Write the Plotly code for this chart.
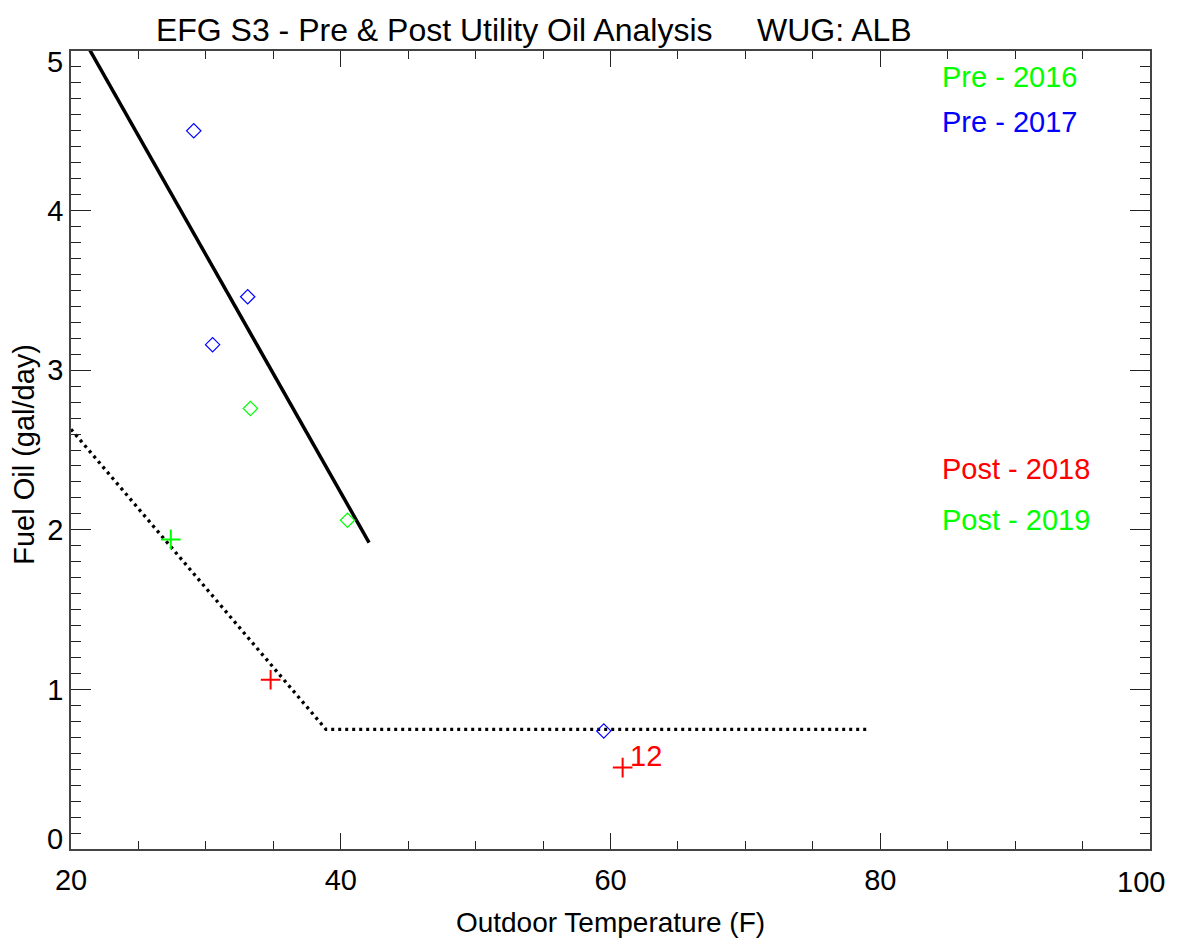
import plotly.graph_objects as go

# ---- data ----
pre2016_x = [33.3, 40.5]
pre2016_y = [2.76, 2.06]
pre2017_x = [29.1, 33.1, 30.5, 59.5]
pre2017_y = [4.50, 3.46, 3.16, 0.74]
post2018_x = [34.8, 60.9]
post2018_y = [1.06, 0.51]
post2019_x = [27.4]
post2019_y = [1.94]

pre_fit_x = [21.3, 42.1]
pre_fit_y = [5.02, 1.92]
post_fit_x = [20.0, 38.9, 79.0]
post_fit_y = [2.63, 0.75, 0.75]

label_12_x = 62.6
label_12_y = 0.58

legend_labels = ["Pre - 2016", "Pre - 2017", "Post - 2018", "Post - 2019"]
legend_colors = ["#00ff00", "#0000ff", "#ff0000", "#00ff00"]
legend_ypos = [0.967, 0.911, 0.476, 0.412]

title_text = "EFG S3 - Pre & Post Utility Oil Analysis\u00a0\u00a0\u00a0\u00a0\u00a0WUG: ALB"
x_title = "Outdoor Temperature (F)"
y_title = "Fuel Oil (gal/day)"
x_ticks = [20, 40, 60, 80, 100]
x_ticktext = ["20", "40", "60", "80", ""]
x_end_label = "100"
y_ticks = [0, 1, 2, 3, 4, 5]
y_ticktext = ["", "1", "2", "3", "4", ""]
y_end_labels = ["0", "5"]
y_end_pos = [0.06, 4.93]

FONT = "Liberation Sans, Arial, Helvetica, sans-serif"

fig = go.Figure()

fig.add_trace(go.Scatter(x=pre_fit_x, y=pre_fit_y, mode="lines",
                         line=dict(color="black", width=3.5), showlegend=False))
fig.add_trace(go.Scatter(x=post_fit_x, y=post_fit_y, mode="lines",
                         line=dict(color="black", width=3.3, dash="3px,4px"), showlegend=False))

fig.add_trace(go.Scatter(x=pre2016_x, y=pre2016_y, mode="markers",
                         marker=dict(symbol="diamond-open", size=11, color="#00ff00",
                                     line=dict(width=1.2, color="#00ff00")), showlegend=False))
fig.add_trace(go.Scatter(x=pre2017_x, y=pre2017_y, mode="markers",
                         marker=dict(symbol="diamond-open", size=11, color="#0000ff",
                                     line=dict(width=1.2, color="#0000ff")), showlegend=False))
fig.add_trace(go.Scatter(x=post2018_x, y=post2018_y, mode="markers",
                         marker=dict(symbol="cross-thin-open", size=14, color="#ff0000",
                                     line=dict(width=2, color="#ff0000")), showlegend=False))
fig.add_trace(go.Scatter(x=post2019_x, y=post2019_y, mode="markers",
                         marker=dict(symbol="cross-thin-open", size=14, color="#00ff00",
                                     line=dict(width=2, color="#00ff00")), showlegend=False))

annotations = []
for lab, col, yp in zip(legend_labels, legend_colors, legend_ypos):
    annotations.append(dict(text=lab, x=0.805, y=yp, xref="paper", yref="paper",
                            xanchor="left", yanchor="middle", showarrow=False,
                            font=dict(family=FONT, size=29, color=col)))
annotations.append(dict(text="12", x=label_12_x, y=label_12_y, xref="x", yref="y",
                        xanchor="center", yanchor="middle", showarrow=False,
                        font=dict(family=FONT, size=29, color="#ff0000")))
for lab, yv in zip(y_end_labels, y_end_pos):
    annotations.append(dict(text=lab, x=0, y=yv, xref="paper", yref="y",
                            xanchor="right", yanchor="middle", xshift=-6, showarrow=False,
                            font=dict(family=FONT, size=29, color="black")))
annotations.append(dict(text=x_end_label, x=x_ticks[-1], y=0, xref="x", yref="paper",
                        xanchor="center", yanchor="middle", xshift=-9, yshift=-33,
                        showarrow=False, font=dict(family=FONT, size=29, color="black")))
annotations.append(dict(text=y_title, x=0, y=0.494, xref="paper", yref="paper",
                        xanchor="center", yanchor="middle", xshift=-47, textangle=-90,
                        showarrow=False, font=dict(family=FONT, size=29, color="black")))

axis_common = dict(showgrid=False, zeroline=False, showline=True, linecolor="#444",
                   linewidth=1.5, mirror="ticks", ticks="inside", tickcolor="#222",
                   automargin=False)

fig.update_layout(
    width=1171, height=930,
    paper_bgcolor="white", plot_bgcolor="white",
    margin=dict(l=63, r=29, t=43, b=89),
    title=dict(text=title_text, x=0.449, xanchor="center", y=0.977, yanchor="middle",
               font=dict(family=FONT, size=32, color="black")),
    annotations=annotations,
    xaxis=dict(range=[20, 100], tickvals=x_ticks, ticktext=x_ticktext, ticklen=16, tickwidth=1.2,
               tickfont=dict(family=FONT, size=29, color="black"), ticklabelstandoff=4,
               minor=dict(dtick=5, ticklen=8, ticks="inside", tickcolor="#222", tickwidth=1.2),
               title=dict(text=x_title, font=dict(family=FONT, size=28, color="black"), standoff=21),
               **axis_common),
    yaxis=dict(range=[0, 5.0], tickvals=y_ticks, ticktext=y_ticktext, ticklen=20, tickwidth=1.2,
               tickfont=dict(family=FONT, size=29, color="black"),
               minor=dict(dtick=0.1, ticklen=10, ticks="inside", tickcolor="#222", tickwidth=1.2),
               **axis_common),
)

fig.write_html("out.html")
